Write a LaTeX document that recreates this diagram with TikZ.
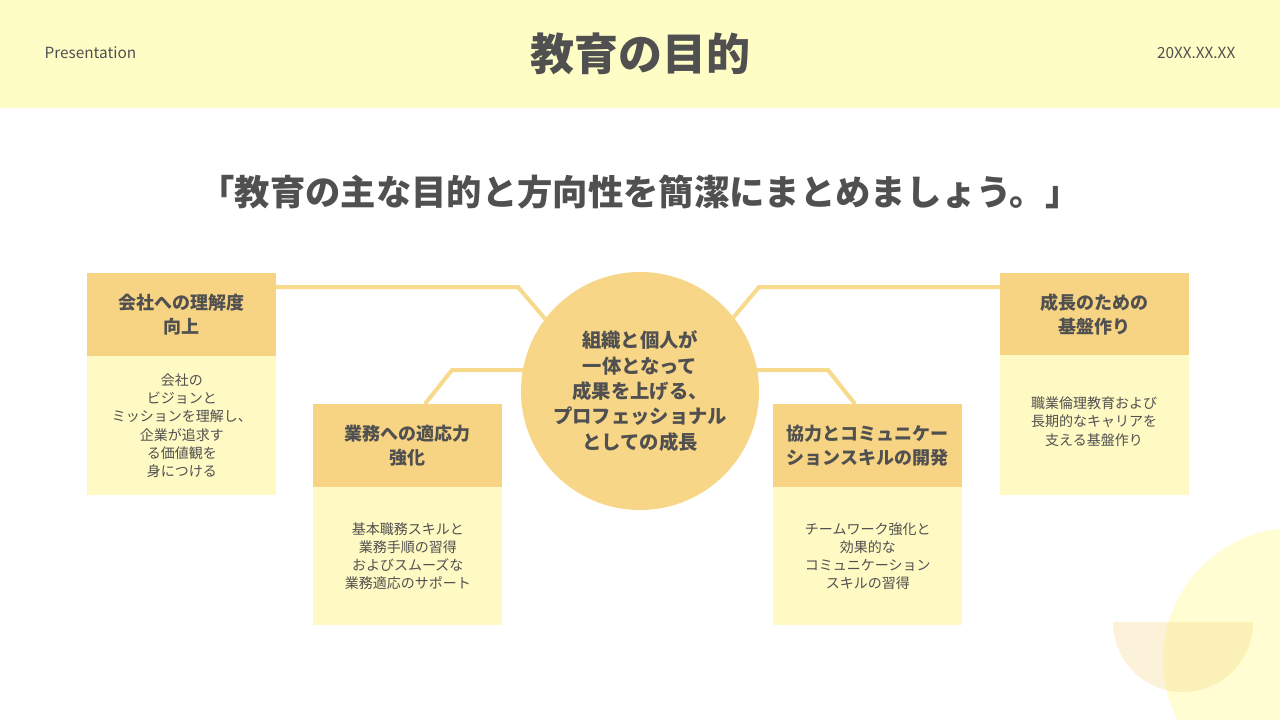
\documentclass[tikz,border=0pt]{standalone}
\usepackage{fontspec}
\setmainfont{Noto Sans CJK JP}
\definecolor{hdr}{HTML}{FFFDC6}
\definecolor{txt}{HTML}{505050}
\definecolor{gold}{HTML}{F7D483}
\definecolor{pale}{HTML}{FFF9C4}
\definecolor{lnc}{HTML}{F8DA8C}
\definecolor{circ}{HTML}{F8D687}
\tikzset{
 hbox/.style={fill=gold,draw=none,minimum width=189*0.75pt,minimum height=83*0.75pt,inner sep=0pt,align=center,text=txt,font=\bfseries\fontsize{13.5}{18}\selectfont},
 bbox/.style={fill=pale,draw=none,minimum width=189*0.75pt,inner sep=0pt,align=center,text=txt,font=\fontsize{10.5}{13.7}\selectfont},
 conn/.style={draw=lnc,line width=3pt}
}
\begin{document}
\begin{tikzpicture}[x=0.75pt,y=-0.75pt]
\useasboundingbox (0,0) rectangle (1280,720);
\fill[white] (0,0) rectangle (1280,720);
\fill[hdr] (0,0) rectangle (1280,108);
\begin{scope}
\clip (0,0) rectangle (1280,720);
\fill[hdr!80!white] (1295,660) circle (132);
\fill[gold,opacity=0.3] (1113,622) arc[start angle=180,end angle=0,radius=70] -- cycle;
\end{scope}
\node[text=txt,font=\fontsize{11.5}{13}\selectfont,anchor=west] (pres) at (40,53) {Presentation};
\node[text=txt,font=\fontsize{11.5}{13}\selectfont,anchor=east] (date) at (1240,53) {20XX.XX.XX};
\node[text=txt,font=\bfseries\fontsize{33}{36}\selectfont] (title) at (640,54) {教育の目的};
\node[text=txt,font=\bfseries\fontsize{26.5}{30}\selectfont] (sub) at (640,192) {「教育の主な目的と方向性を簡潔にまとめましょう。」};
\coordinate (c1a) at (276,287); \coordinate (c1b) at (518,287); \coordinate (c1c) at (546,320);
\draw[conn] (c1a) -- (c1b) -- (c1c);
\coordinate (c2a) at (425,404); \coordinate (c2b) at (452,370); \coordinate (c2c) at (530,370);
\draw[conn] (c2a) -- (c2b) -- (c2c);
\coordinate (c3a) at (750,370); \coordinate (c3b) at (828,370); \coordinate (c3c) at (855,404);
\draw[conn] (c3a) -- (c3b) -- (c3c);
\coordinate (c4a) at (733,318); \coordinate (c4b) at (759,287); \coordinate (c4c) at (1000,287);
\draw[conn] (c4a) -- (c4b) -- (c4c);
\node[circle,fill=circ,minimum size=238*0.75pt,inner sep=0pt,align=center,text=txt,font=\bfseries\fontsize{14.5}{19}\selectfont] (ctr) at (640,391) {組織と個人が\\一体となって\\成果を上げる、\\プロフェッショナル\\としての成長};
\node[hbox,anchor=north west] (h1) at (87,273) {会社への理解度\\向上};
\node[bbox,anchor=north west,minimum height=139*0.75pt] (b1) at (87,356) {会社の\\ビジョンと\\ミッションを理解し、\\企業が追求す\\る価値観を\\身につける};
\node[hbox,anchor=north west] (h2) at (313,404) {業務への適応力\\強化};
\node[bbox,anchor=north west,minimum height=138*0.75pt] (b2) at (313,487) {基本職務スキルと\\業務手順の習得\\およびスムーズな\\業務適応のサポート};
\node[hbox,anchor=north west] (h3) at (773,404) {協力とコミュニケー\\ションスキルの開発};
\node[bbox,anchor=north west,minimum height=138*0.75pt] (b3) at (773,487) {チームワーク強化と\\効果的な\\コミュニケーション\\スキルの習得};
\node[hbox,anchor=north west] (h4) at (1000,273) {成長のための\\基盤作り};
\node[bbox,anchor=north west,minimum height=140*0.75pt,text depth=0pt] (b4) at (1000,355) {};
\node[text=txt,align=center,font=\fontsize{10.5}{13.7}\selectfont,anchor=north] (b4t) at (1094,392) {職業倫理教育および\\長期的なキャリアを\\支える基盤作り};
\end{tikzpicture}
\end{document}
